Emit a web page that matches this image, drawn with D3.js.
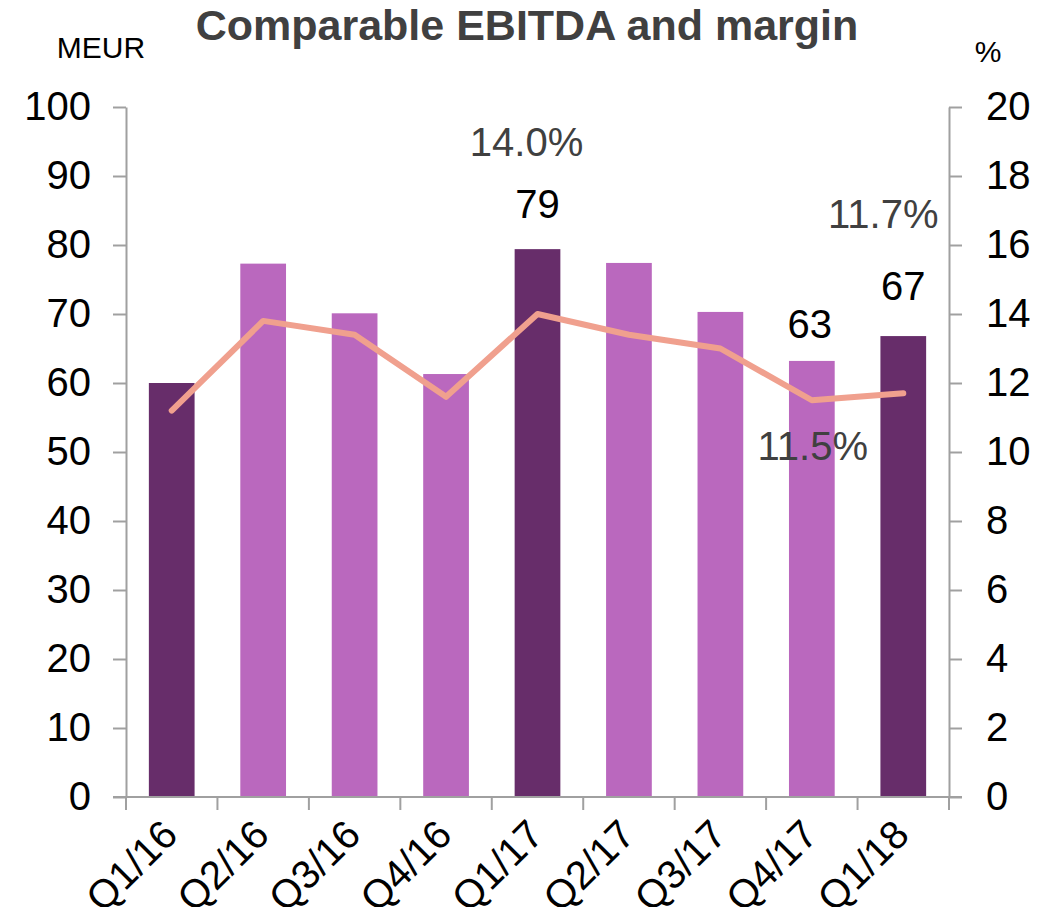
<!DOCTYPE html>
<html>
<head>
<meta charset="utf-8">
<script src="https://cdn.jsdelivr.net/npm/d3@7"></script>
<style>
  body { margin: 0; background: #fff; }
  svg { font-family: "Liberation Sans", Arial, sans-serif; }
  .axis path, .axis line { stroke: #a0a0a0; stroke-width: 2; }
  .axis text { fill: #000; font-size: 40px; }
</style>
</head>
<body>
<svg id="chart" width="1054" height="907"></svg>
<script>
// chart data
const quarters = ['Q1/16', 'Q2/16', 'Q3/16', 'Q4/16', 'Q1/17', 'Q2/17', 'Q3/17', 'Q4/17', 'Q1/18'];
const ebitda = [60.0, 77.3, 70.1, 61.3, 79.4, 77.4, 70.3, 63.2, 66.8];
const margin = [11.2, 13.8, 13.4, 11.6, 14.0, 13.4, 13.0, 11.5, 11.7];
const highlight = [true, false, false, false, true, false, false, false, true];
const leftTicks = [0, 10, 20, 30, 40, 50, 60, 70, 80, 90, 100];
const rightTicks = [0, 2, 4, 6, 8, 10, 12, 14, 16, 18, 20];

// labelled points
const barLabels = [{ i: 4, text: '79' }, { i: 7, text: '63' }, { i: 8, text: '67' }];
const marginLabels = [{ i: 4, text: '14.0%' }, { i: 7, text: '11.5%' }, { i: 8, text: '11.7%' }];

// label offsets (layout only)
const barLabelOffset = { 4: [0, -31], 7: [-2, -23], 8: [0, -36] };
const marginLabelOffset = { 4: [-11, -158], 7: [1, 60], 8: [-20, -165] };

const width = 1054, height = 907;
const m = { top: 107, right: 105, bottom: 110, left: 126 };
const innerW = width - m.left - m.right;
const innerH = height - m.top - m.bottom;

const svg = d3.select('#chart');
const chart = svg.append('g').attr('transform', `translate(${m.left},${m.top})`);

const x = d3.scaleBand().domain(quarters).range([0, innerW]).paddingInner(0.5).paddingOuter(0.25);
const yL = d3.scaleLinear().domain([0, 100]).range([innerH, 0]);
const yR = d3.scaleLinear().domain([0, 20]).range([innerH, 0]);

const dark = '#672d6a', light = '#ba68be', lineColor = '#f0a08e';

// bars
chart.selectAll('rect.bar')
  .data(quarters)
  .join('rect')
  .attr('class', 'bar')
  .attr('x', d => x(d))
  .attr('width', x.bandwidth())
  .attr('y', (d, i) => yL(ebitda[i]))
  .attr('height', (d, i) => innerH - yL(ebitda[i]))
  .attr('fill', (d, i) => highlight[i] ? dark : light);

// axes
chart.append('g').attr('class', 'axis')
  .call(d3.axisLeft(yL).tickValues(leftTicks).tickSize(13).tickSizeOuter(0).tickPadding(22));
chart.append('g').attr('class', 'axis')
  .attr('transform', `translate(${innerW},0)`)
  .call(d3.axisRight(yR).tickValues(rightTicks).tickSize(13).tickSizeOuter(0).tickPadding(24));

// x axis with ticks at band boundaries
const xAxisG = chart.append('g').attr('class', 'axis')
  .attr('transform', `translate(0,${innerH})`);
xAxisG.append('line').attr('x1', -13).attr('x2', innerW + 13).attr('y1', 0).attr('y2', 0);
const bounds = d3.range(quarters.length + 1).map(i => i * x.step());
xAxisG.selectAll('line.tick')
  .data(bounds)
  .join('line')
  .attr('class', 'tick')
  .attr('x1', d => d).attr('x2', d => d)
  .attr('y1', 0).attr('y2', 13);
xAxisG.selectAll('text')
  .data(quarters)
  .join('text')
  .attr('text-anchor', 'end')
  .attr('font-size', 38)
  .attr('fill', '#000')
  .attr('transform', d => `translate(${x(d) + x.bandwidth() / 2 + 8},40) rotate(-45)`)
  .text(d => d);

// margin line
const line = d3.line()
  .x((d, i) => x(quarters[i]) + x.bandwidth() / 2)
  .y(d => yR(d));
chart.append('path')
  .datum(margin)
  .attr('d', line)
  .attr('fill', 'none')
  .attr('stroke', lineColor)
  .attr('stroke-width', 6)
  .attr('stroke-linecap', 'round')
  .attr('stroke-linejoin', 'round');

// data labels
chart.selectAll('text.barLabel')
  .data(barLabels)
  .join('text')
  .attr('class', 'barLabel')
  .attr('text-anchor', 'middle')
  .attr('font-size', 40)
  .attr('fill', '#000')
  .attr('x', d => x(quarters[d.i]) + x.bandwidth() / 2 + barLabelOffset[d.i][0])
  .attr('y', d => yL(ebitda[d.i]) + barLabelOffset[d.i][1])
  .text(d => d.text);

chart.selectAll('text.marginLabel')
  .data(marginLabels)
  .join('text')
  .attr('class', 'marginLabel')
  .attr('text-anchor', 'middle')
  .attr('font-size', 40)
  .attr('fill', '#404040')
  .attr('x', d => x(quarters[d.i]) + x.bandwidth() / 2 + marginLabelOffset[d.i][0])
  .attr('y', d => yR(margin[d.i]) + marginLabelOffset[d.i][1])
  .text(d => d.text);

// titles
svg.append('text')
  .attr('x', 527).attr('y', 40)
  .attr('text-anchor', 'middle')
  .attr('font-size', 43)
  .attr('font-weight', 'bold')
  .attr('fill', '#404040')
  .text('Comparable EBITDA and margin');

svg.append('text')
  .attr('x', 101).attr('y', 58)
  .attr('text-anchor', 'middle')
  .attr('font-size', 30)
  .attr('fill', '#000')
  .text('MEUR');

svg.append('text')
  .attr('x', 988).attr('y', 62)
  .attr('text-anchor', 'middle')
  .attr('font-size', 30)
  .attr('fill', '#000')
  .text('%');
</script>
</body>
</html>
